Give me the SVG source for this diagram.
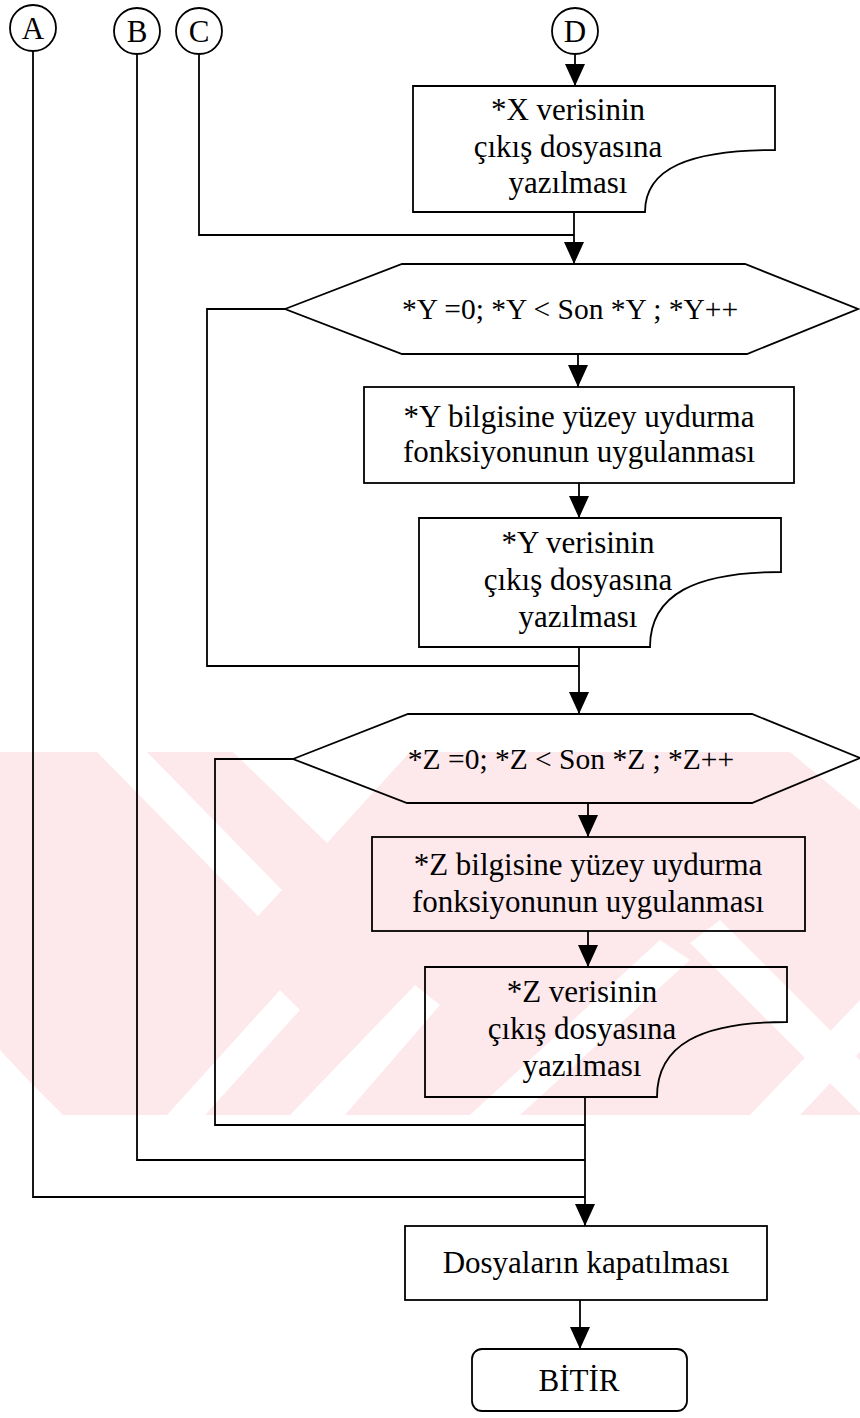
<svg xmlns="http://www.w3.org/2000/svg" width="860" height="1418" viewBox="0 0 860 1418">
  <defs>
    <style>
      .ln { fill: none; stroke: #000; stroke-width: 1.8; }
      .nd { fill: none; stroke: #000; stroke-width: 1.8; }
      .tx { font-family: "Liberation Serif", "Times New Roman", serif; font-size: 31px; fill: #000; text-anchor: middle; }
      .hx { font-family: "Liberation Serif", "Times New Roman", serif; font-size: 29.5px; fill: #000; text-anchor: middle; }
      .wm { fill: #fde8ec; }
      .wg { fill: #ffffff; }
    </style>
    <marker id="arrow" markerUnits="userSpaceOnUse" viewBox="0 0 22 20" markerWidth="22" markerHeight="20" refX="22" refY="10" orient="auto">
      <path d="M0,0 L22,10 L0,20 Z" fill="#000"/>
    </marker>
    <clipPath id="band">
      <rect x="0" y="752" width="860" height="363"/>
    </clipPath>
  </defs>

  <rect x="0" y="0" width="860" height="1418" fill="#fff"/>

  <!-- background stamp: pale diagonal bands -->
  <g id="stamp" clip-path="url(#band)">
    <rect class="wm" x="0" y="752" width="860" height="363"/>
    <polygon class="wg" points="97,752 147,752 282,890 258,916"/>
    <polygon class="wg" points="233,752 410,752 327,843"/>
    <polygon class="wg" points="0,1050 0,1115 63,1115 30,1082"/>
    <polygon class="wg" points="167,1115 205,1115 300,1010 280,990"/>
    <polygon class="wg" points="290,1115 345,1115 440,1005 415,985"/>
    <polygon class="wg" points="470,1115 520,1115 690,960 660,940"/>
    <polygon class="wg" points="690,943 720,920 860,1060 860,1113"/>
    <polygon class="wg" points="750,1115 800,1115 860,1052 860,1000"/>
    <polygon class="wg" points="790,752 860,752 860,810"/>
  </g>

  <!-- connectors -->
  <g id="connectors">
    <path class="ln" d="M575,54 V86" marker-end="url(#arrow)"/>
    <path class="ln" d="M574,212 V264" marker-end="url(#arrow)"/>
    <path class="ln" d="M199,54 V235 H574"/>
    <path class="ln" d="M578,354 V387" marker-end="url(#arrow)"/>
    <path class="ln" d="M579,483 V518" marker-end="url(#arrow)"/>
    <path class="ln" d="M579,647 V714" marker-end="url(#arrow)"/>
    <path class="ln" d="M285,309 H207 V666 H579"/>
    <path class="ln" d="M588,803 V837" marker-end="url(#arrow)"/>
    <path class="ln" d="M588,931 V967" marker-end="url(#arrow)"/>
    <path class="ln" d="M585,1097 V1226" marker-end="url(#arrow)"/>
    <path class="ln" d="M293,759 H215 V1125 H585"/>
    <path class="ln" d="M137,54 V1160 H585"/>
    <path class="ln" d="M33,51 V1197 H585"/>
    <path class="ln" d="M580,1300 V1349" marker-end="url(#arrow)"/>
  </g>

  <!-- connector circles -->
  <g id="conn-A">
    <circle class="nd" cx="33" cy="28" r="23"/>
    <text class="tx" x="33" y="39">A</text>
  </g>
  <g id="conn-B">
    <circle class="nd" cx="137" cy="31" r="23"/>
    <text class="tx" x="137" y="42">B</text>
  </g>
  <g id="conn-C">
    <circle class="nd" cx="199" cy="31" r="23"/>
    <text class="tx" x="199" y="42">C</text>
  </g>
  <g id="conn-D">
    <circle class="nd" cx="575" cy="31" r="23"/>
    <text class="tx" x="575" y="42">D</text>
  </g>

  <!-- X output -->
  <g id="write-x">
    <path class="nd" d="M413,86 H775 V150 C690,150 645,168 645,212 H413 Z"/>
    <text class="tx" x="568" y="120">*X verisinin</text>
    <text class="tx" x="568" y="157">çıkış dosyasına</text>
    <text class="tx" x="568" y="193">yazılması</text>
  </g>

  <!-- Y loop -->
  <g id="loop-y">
    <polygon class="nd" points="285,309 402,264 745,264 858,309 747,354 402,354"/>
    <text class="hx" x="570" y="319">*Y =0; *Y &lt; Son *Y ; *Y++</text>
  </g>

  <g id="fit-y">
    <rect class="nd" x="364" y="387" width="430" height="96"/>
    <text class="tx" x="579" y="427">*Y bilgisine yüzey uydurma</text>
    <text class="tx" x="579" y="462">fonksiyonunun uygulanması</text>
  </g>

  <g id="write-y">
    <path class="nd" d="M419,518 H781 V572 C696,572 650,594 650,647 H419 Z"/>
    <text class="tx" x="578" y="553">*Y verisinin</text>
    <text class="tx" x="578" y="590">çıkış dosyasına</text>
    <text class="tx" x="578" y="627">yazılması</text>
  </g>

  <!-- Z loop -->
  <g id="loop-z">
    <polygon class="nd" points="293,759 408,714 752,714 860,758 752,803 407,803"/>
    <text class="hx" x="571" y="769">*Z =0; *Z &lt; Son *Z ; *Z++</text>
  </g>

  <g id="fit-z">
    <rect class="nd" x="372" y="837" width="433" height="94"/>
    <text class="tx" x="588" y="875">*Z bilgisine yüzey uydurma</text>
    <text class="tx" x="588" y="912">fonksiyonunun uygulanması</text>
  </g>

  <g id="write-z">
    <path class="nd" d="M425,967 H787 V1022 C700,1022 657,1045 657,1097 H425 Z"/>
    <text class="tx" x="582" y="1002">*Z verisinin</text>
    <text class="tx" x="582" y="1039">çıkış dosyasına</text>
    <text class="tx" x="582" y="1076">yazılması</text>
  </g>

  <!-- closing -->
  <g id="close-files">
    <rect class="nd" x="405" y="1226" width="362" height="74"/>
    <text class="tx" x="586" y="1273">Dosyaların kapatılması</text>
  </g>

  <g id="end">
    <rect class="nd" x="472" y="1349" width="215" height="62" rx="10" ry="10"/>
    <text class="tx" x="579" y="1391">BİTİR</text>
  </g>
</svg>
